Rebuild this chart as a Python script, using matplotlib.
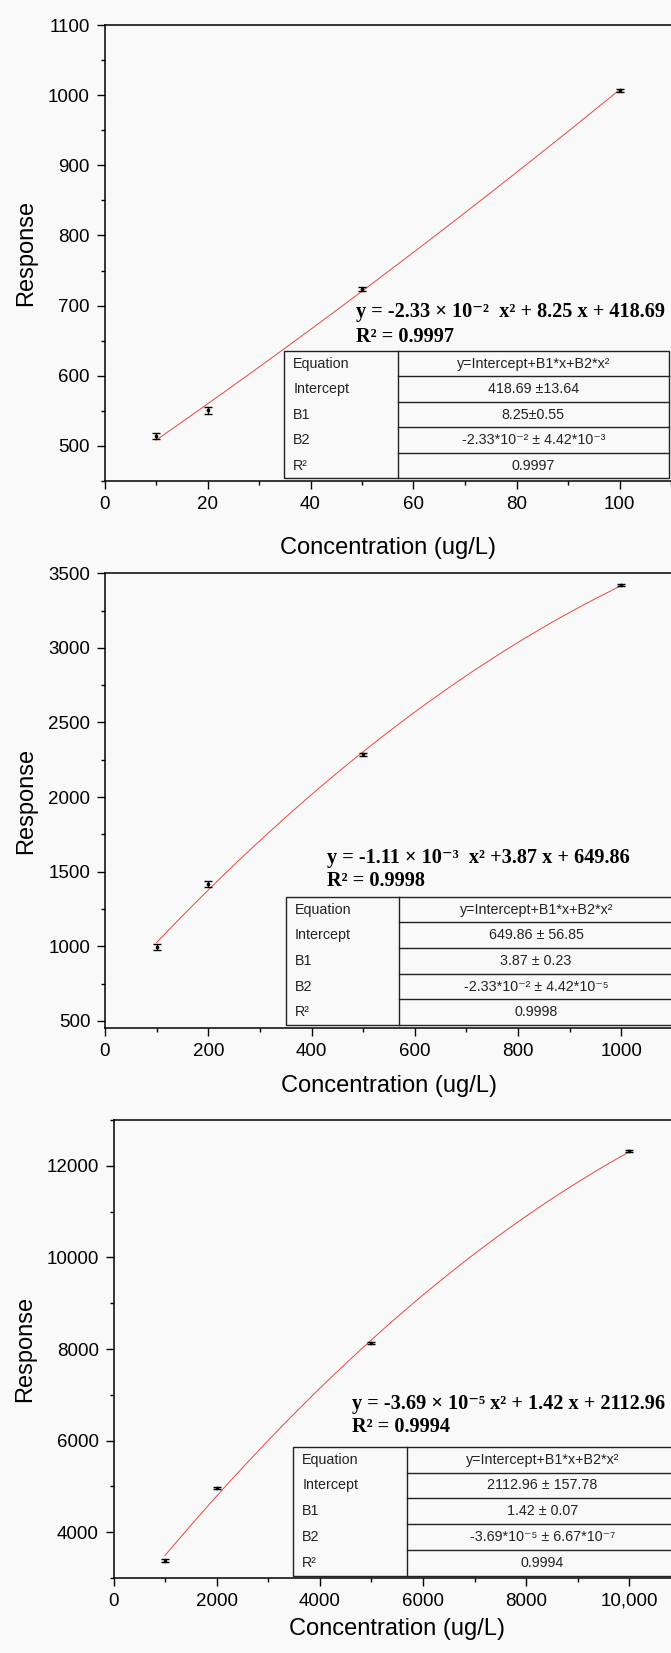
import numpy as np
import matplotlib
matplotlib.use('Agg')
from matplotlib import pyplot as plt
from matplotlib.ticker import MultipleLocator
from matplotlib.patches import Rectangle
from matplotlib.lines import Line2D

# data
conc_1 = [10, 20, 50, 100]
resp_1 = [514, 551, 724, 1007]
err_1 = [4, 5, 3, 2]

conc_2 = [100, 200, 500, 1000]
resp_2 = [998, 1418, 2288, 3420]
err_2 = [20, 22, 10, 7]

conc_3 = [1000, 2000, 5000, 10000]
resp_3 = [3380, 4960, 8132, 12318]
err_3 = [25, 25, 25, 25]

xticks_3 = [0, 2000, 4000, 6000, 8000, 10000]
xticklabels_3 = ['0', '2000', '4000', '6000', '8000', '10,000']

eq_1 = 'y = -2.33 × 10⁻²  x² + 8.25 x + 418.69'
eq_2 = 'y = -1.11 × 10⁻³  x² +3.87 x + 649.86'
eq_3 = 'y = -3.69 × 10⁻⁵ x² + 1.42 x + 2112.96'
r2_1 = 'R² = 0.9997'
r2_2 = 'R² = 0.9998'
r2_3 = 'R² = 0.9994'

row_names = ['Equation', 'Intercept', 'B1', 'B2', 'R²']
table_1 = ['y=Intercept+B1*x+B2*x²', '418.69 ±13.64', '8.25±0.55',
           '-2.33*10⁻² ± 4.42*10⁻³', '0.9997']
table_2 = ['y=Intercept+B1*x+B2*x²', '649.86 ± 56.85', '3.87 ± 0.23',
           '-2.33*10⁻² ± 4.42*10⁻⁵', '0.9998']
table_3 = ['y=Intercept+B1*x+B2*x²', '2112.96 ± 157.78', '1.42 ± 0.07',
           '-3.69*10⁻⁵ ± 6.67*10⁻⁷', '0.9994']

W, H = 671, 1653
SANS = ['Liberation Sans', 'DejaVu Sans']
SERIF = ['Liberation Serif', 'DejaVu Serif']
BG = '#f9f9f9'

plt.rcParams['font.family'] = SANS

fig = plt.figure(figsize=(W / 100, H / 100), dpi=100, facecolor=BG)


def add_panel(box, x, y, e, xlim, ylim, xmaj, xmin, ymaj, ymin, ylab_x, xlab_dy):
    left, top, right, bottom = box
    ax = fig.add_axes([left / W, 1 - bottom / H, (right - left) / W, (bottom - top) / H])
    ax.set_facecolor(BG)
    coef = np.polyfit(x, y, 2)
    xs = np.linspace(min(x), max(x), 200)
    ax.plot(xs, np.polyval(coef, xs), color='#e8463c', lw=0.7)
    ax.errorbar(x, y, yerr=e, fmt='o', ms=1.6, color='black', ecolor='black',
                elinewidth=1.0, capsize=3.2, capthick=1.0)
    ax.set_xlim(*xlim)
    ax.set_ylim(*ylim)
    ax.xaxis.set_major_locator(MultipleLocator(xmaj))
    ax.xaxis.set_minor_locator(MultipleLocator(xmin))
    ax.yaxis.set_major_locator(MultipleLocator(ymaj))
    ax.yaxis.set_minor_locator(MultipleLocator(ymin))
    ax.tick_params(which='major', direction='out', length=5.5, width=1.0,
                   labelsize=13.5, pad=5)
    ax.tick_params(which='minor', direction='out', length=3, width=1.0)
    ax.spines['right'].set_visible(False)
    for s in ['left', 'bottom', 'top']:
        ax.spines[s].set_linewidth(1.1)
    ax.set_ylabel('Response', fontsize=17)
    ax.set_xlabel('Concentration (ug/L)', fontsize=17)
    ax.yaxis.set_label_coords((ylab_x - left) / (right - left), 0.5)
    ax.xaxis.set_label_coords(0.5, -xlab_dy / (bottom - top))
    return ax


def add_equation(x, y1, y2, eq, r2):
    fig.text(x / W, 1 - y1 / H, eq, family=SERIF, weight='bold', fontsize=14.6, va='baseline')
    fig.text(x / W, 1 - y2 / H, r2, family=SERIF, weight='bold', fontsize=14.6, va='baseline')


def add_table(box, values):
    left, div, right, top, bottom = box
    rh = (bottom - top) / len(row_names)
    fig.patches.append(Rectangle((left / W, 1 - bottom / H), (right - left) / W, (bottom - top) / H,
                                 transform=fig.transFigure, facecolor=BG,
                                 edgecolor='#222222', lw=1.0))
    fig.lines.append(Line2D([div / W, div / W], [1 - top / H, 1 - bottom / H],
                            transform=fig.transFigure, color='#222222', lw=1.0))
    for i in range(1, len(row_names)):
        yy = 1 - (top + i * rh) / H
        fig.lines.append(Line2D([div / W, right / W], [yy, yy],
                                transform=fig.transFigure, color='#222222', lw=1.0))
    for i, (name, val) in enumerate(zip(row_names, values)):
        yc = 1 - (top + (i + 0.5) * rh) / H
        fig.text((left + 9) / W, yc, name, fontsize=10.3, va='center', ha='left', color='#222222')
        fig.text((div + right) / 2 / W, yc, val, fontsize=10.3, va='center', ha='center', color='#222222')


ax1 = add_panel((104.5, 25, 671, 481), conc_1, resp_1, err_1, (0, 110), (450, 1100),
                20, 10, 100, 50, 37, 56)
add_equation(356, 316.7, 341.7, eq_1, r2_1)
add_table((284.3, 397.7, 669, 351, 478.3), table_1)

ax2 = add_panel((105, 573.3, 673, 1028.3), conc_2, resp_2, err_2, (0, 1100), (450, 3500),
                200, 100, 500, 250, 37, 47)
add_equation(327.3, 863.3, 886, eq_2, r2_2)
add_table((286, 399.3, 673, 896.7, 1025), table_2)

ax3 = add_panel((113.5, 1120, 681, 1578), conc_3, resp_3, err_3, (0, 11000), (3000, 13000),
                2000, 1000, 2000, 1000, 36, 40)
ax3.set_xticks(xticks_3)
ax3.set_xticklabels(xticklabels_3)
add_equation(351.7, 1409, 1431.7, eq_3, r2_3)
add_table((293.3, 406.7, 678, 1446.7, 1575.7), table_3)

fig.savefig('out.png', dpi=100, facecolor=BG)
